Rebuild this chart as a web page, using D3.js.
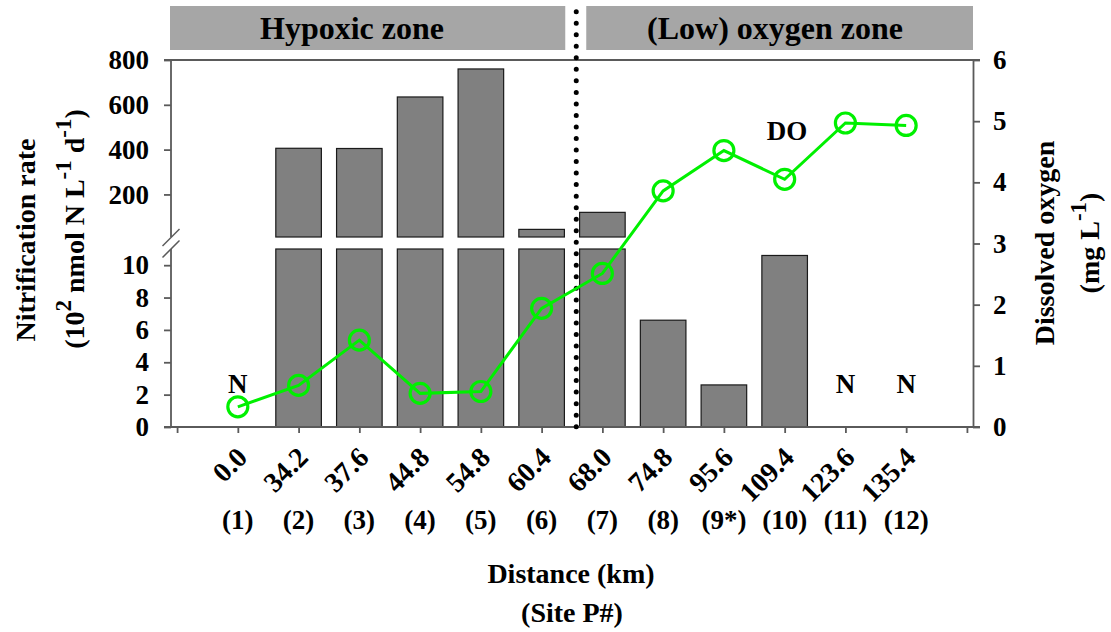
<!DOCTYPE html>
<html><head><meta charset="utf-8">
<script src="https://cdn.jsdelivr.net/npm/d3@7"></script>
<style>
html,body{margin:0;padding:0;background:#fff;}
svg text{font-family:"Liberation Serif","Times New Roman",serif;font-weight:bold;fill:#000;}
</style></head><body><svg id="c" width="1111" height="632"></svg>
<script>
// ---- data ----
const siteLabels = ["(1)","(2)","(3)","(4)","(5)","(6)","(7)","(8)","(9*)","(10)","(11)","(12)"];
const distanceLabels = ["0.0","34.2","37.6","44.8","54.8","60.4","68.0","74.8","95.6","109.4","123.6","135.4"];
const nitrificationRate = [null, 406, 405, 635, 760, 44, 120, 6.6, 2.6, 10.6, null, null];
const dissolvedOxygen = [0.33, 0.68, 1.42, 0.55, 0.58, 1.94, 2.51, 3.86, 4.52, 4.05, 4.97, 4.93];
const upperTicks = [200, 400, 600, 800];
const lowerTicks = [0, 2, 4, 6, 8, 10];
const doTicks = [0, 1, 2, 3, 4, 5, 6];
const zoneLabels = ["Hypoxic zone", "(Low) oxygen zone"];

// ---- layout ----
const svg = d3.select("#c");
const x = d3.scaleLinear().domain([-0.1, 13.1]).range([171, 973]);
const yU = d3.scaleLinear().domain([10, 800]).range([237, 60]);
const yL = d3.scaleLinear().domain([0, 11]).range([427, 249]);
const yR = d3.scaleLinear().domain([0, 6]).range([427, 60]);
const BREAK = 11;
const AX = "#5a5a5a";
const bw = (x(1) - x(0)) * 0.75;
const idx = i => i + 1;

// zone header boxes
const split = x(6.57);
svg.append("rect").attr("x", 170).attr("y", 6).attr("width", split - 11 - 170).attr("height", 44).attr("fill", "#a6a6a6");
svg.append("rect").attr("x", split + 10).attr("y", 6).attr("width", 973 - split - 10).attr("height", 44).attr("fill", "#a6a6a6");
svg.append("text").attr("x", 352).attr("y", 39).attr("text-anchor", "middle").style("font-size", "32px").text(zoneLabels[0]);
svg.append("text").attr("x", 775).attr("y", 39).attr("text-anchor", "middle").style("font-size", "32px").text(zoneLabels[1]);

// bars
const barData = nitrificationRate.map((v, i) => ({v, i})).filter(d => d.v !== null);
svg.append("g").selectAll("rect").data(barData).join("rect")
  .attr("x", d => x(idx(d.i)) - bw / 2).attr("width", bw)
  .attr("y", d => yL(Math.min(d.v, BREAK))).attr("height", d => yL(0) - yL(Math.min(d.v, BREAK)))
  .attr("fill", "#808080").attr("stroke", "#1a1a1a").attr("stroke-width", 1.2);
svg.append("g").selectAll("rect").data(barData.filter(d => d.v > BREAK)).join("rect")
  .attr("x", d => x(idx(d.i)) - bw / 2).attr("width", bw)
  .attr("y", d => yU(d.v)).attr("height", d => yU(10) - yU(d.v))
  .attr("fill", "#808080").attr("stroke", "#1a1a1a").attr("stroke-width", 1.2);

// axes
function styleAxis(g, fs) {
  g.selectAll(".tick line").attr("stroke", AX).attr("stroke-width", 1.8);
  g.selectAll(".tick text").style("font-size", fs + "px").attr("fill", "#000");
}
const gU = svg.append("g").attr("transform", "translate(171,0)")
  .call(d3.axisLeft(yU).tickValues(upperTicks).tickSize(7).tickPadding(15));
gU.select(".domain").remove(); styleAxis(gU, 27);
const gLo = svg.append("g").attr("transform", "translate(171,0)")
  .call(d3.axisLeft(yL).tickValues(lowerTicks).tickSize(7).tickPadding(15));
gLo.select(".domain").remove(); styleAxis(gLo, 27);
const gR = svg.append("g").attr("transform", "translate(973,0)")
  .call(d3.axisRight(yR).tickValues(doTicks).tickFormat(d3.format("d")).tickSize(7).tickSizeOuter(0).tickPadding(13));
gR.select(".domain").attr("stroke", AX).attr("stroke-width", 1.8);
styleAxis(gR, 27);
const gB = svg.append("g").attr("transform", "translate(0,427)")
  .call(d3.axisBottom(x).tickValues(d3.range(0, 14)).tickSize(6).tickFormat(""));
gB.select(".domain").remove(); styleAxis(gB, 26);

// frame lines
svg.append("line").attr("x1", 164).attr("x2", 980).attr("y1", 60).attr("y2", 60).attr("stroke", AX).attr("stroke-width", 1.8);
svg.append("line").attr("x1", 164).attr("x2", 980).attr("y1", 427).attr("y2", 427).attr("stroke", AX).attr("stroke-width", 1.8);
svg.append("line").attr("x1", 171).attr("x2", 171).attr("y1", 60).attr("y2", yU(10)).attr("stroke", AX).attr("stroke-width", 1.8);
svg.append("line").attr("x1", 171).attr("x2", 171).attr("y1", yL(BREAK)).attr("y2", 427).attr("stroke", AX).attr("stroke-width", 1.8);
[yU(10) + 0.5, yL(BREAK)].forEach(cy => {
  svg.append("line").attr("x1", 162.5).attr("y1", cy + 8.5).attr("x2", 179.5).attr("y2", cy - 8.5)
    .attr("stroke", AX).attr("stroke-width", 1.5);
});

// dotted separator
svg.append("line").attr("x1", split).attr("x2", split).attr("y1", 11.7).attr("y2", 426.8)
  .attr("stroke", "#000").attr("stroke-width", 5).attr("stroke-linecap", "round")
  .attr("stroke-dasharray", "0 " + (415 / 36));

// DO line
const line = d3.line().x((d, i) => x(idx(i))).y(d => yR(d));
svg.append("path").datum(dissolvedOxygen).attr("d", line).attr("fill", "none")
  .attr("stroke", "#00f000").attr("stroke-width", 3);
svg.append("g").selectAll("circle").data(dissolvedOxygen).join("circle")
  .attr("cx", (d, i) => x(idx(i))).attr("cy", d => yR(d)).attr("r", 10)
  .attr("fill", "none").attr("stroke", "#00f000").attr("stroke-width", 3.2);

// N labels & DO label
nitrificationRate.forEach((v, i) => {
  if (v === null) svg.append("text").attr("x", x(idx(i))).attr("y", 393).attr("text-anchor", "middle").style("font-size", "27px").text("N");
});
svg.append("text").attr("x", 787).attr("y", 140).attr("text-anchor", "middle").style("font-size", "27px").text("DO");

// x labels
svg.append("g").selectAll("text").data(distanceLabels).join("text")
  .attr("transform", (d, i) => `translate(${x(idx(i)) + 11},459) rotate(-45)`)
  .attr("text-anchor", "end").style("font-size", "28px").text(d => d);
svg.append("g").selectAll("text").data(siteLabels).join("text")
  .attr("x", (d, i) => x(idx(i))).attr("y", 529)
  .attr("text-anchor", "middle").style("font-size", "27px").text(d => d);
svg.append("text").attr("x", 571).attr("y", 583).attr("text-anchor", "middle").style("font-size", "28px").text("Distance (km)");
svg.append("text").attr("x", 572).attr("y", 622).attr("text-anchor", "middle").style("font-size", "28px").text("(Site P#)");

// y titles
function supText(t, parts) {
  let raised = false;
  parts.forEach(p => {
    const ts = t.append("tspan").text(p.s);
    if (p.sup) { ts.attr("dy", -13).style("font-size", "23px"); raised = true; }
    else if (raised) { ts.attr("dy", 13); raised = false; }
  });
}
svg.append("text").attr("transform", "translate(35,240) rotate(-90)").attr("text-anchor", "middle").style("font-size", "28px").text("Nitrification rate");
const t2 = svg.append("text").attr("transform", "translate(84,229) rotate(-90)").attr("text-anchor", "middle").style("font-size", "28px");
supText(t2, [{s: "(10"}, {s: "2", sup: true}, {s: " nmol N L"}, {s: "-1", sup: true}, {s: " d"}, {s: "-1", sup: true}, {s: ")"}]);
svg.append("text").attr("transform", "translate(1054,243) rotate(-90)").attr("text-anchor", "middle").style("font-size", "28px").text("Dissolved oxygen");
const t4 = svg.append("text").attr("transform", "translate(1099,243) rotate(-90)").attr("text-anchor", "middle").style("font-size", "28px");
supText(t4, [{s: "(mg L"}, {s: "-1", sup: true}, {s: ")"}]);
</script></body></html>
